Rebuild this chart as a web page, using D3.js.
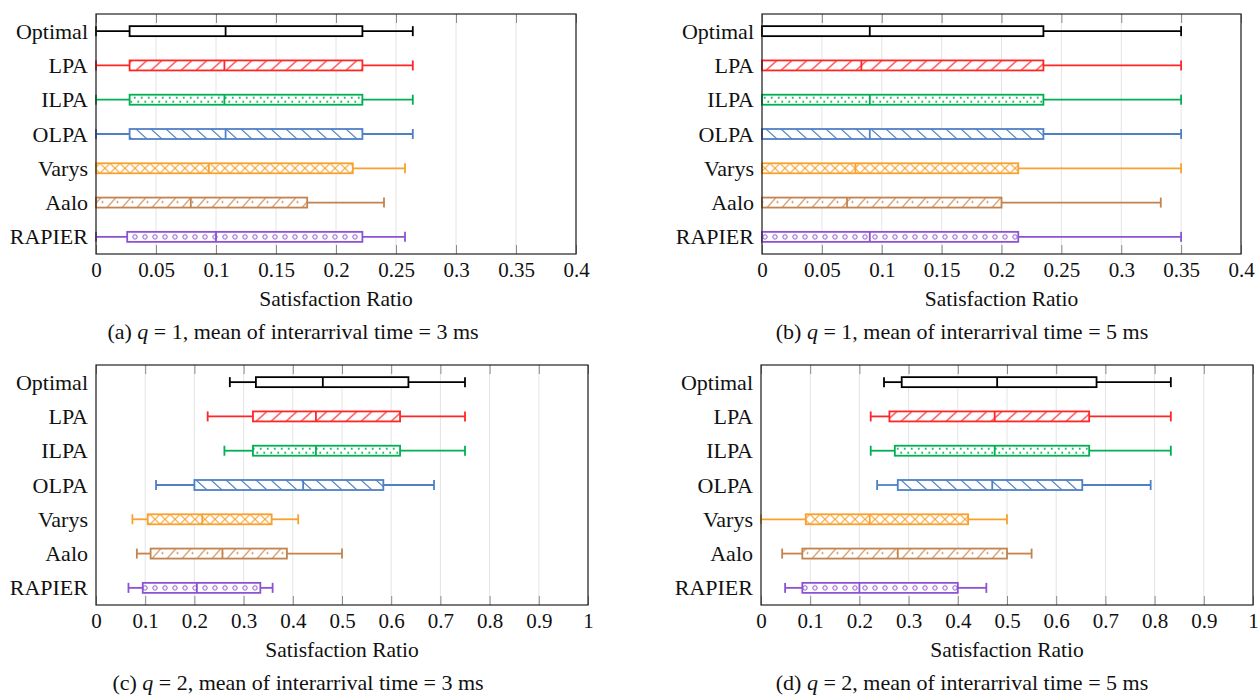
<!DOCTYPE html>
<html>
<head>
<meta charset="utf-8">
<script src="https://cdn.jsdelivr.net/npm/d3@7"></script>
<style>
body{margin:0;background:#fff;}
</style>
</head>
<body>
<div id="chart"></div>
<script>
var width = 1260;
var height = 696;

var methods = ['Optimal','LPA','ILPA','OLPA','Varys','Aalo','RAPIER'];
var colors = ['#000000','#ff2626','#00b050','#4f80c6','#f8a12e','#c4824c','#8b52d2'];
var fills = [null,'neLines','plusDots','nwLines','crossHatch','neDots','circles'];

// each row: [low whisker, q1, median, q3, high whisker]
var statsA = [
  [0, 0.028, 0.108, 0.222, 0.264],
  [0, 0.028, 0.107, 0.222, 0.264],
  [0, 0.028, 0.107, 0.222, 0.264],
  [0, 0.028, 0.108, 0.222, 0.264],
  [0, 0, 0.094, 0.214, 0.2575],
  [0, 0, 0.079, 0.176, 0.24],
  [0, 0.026, 0.1, 0.222, 0.2575]
];
var statsB = [
  [0, 0, 0.09, 0.235, 0.35],
  [0, 0, 0.083, 0.235, 0.35],
  [0, 0, 0.09, 0.235, 0.35],
  [0, 0, 0.09, 0.235, 0.35],
  [0, 0, 0.078, 0.214, 0.35],
  [0, 0, 0.071, 0.2, 0.333],
  [0, 0, 0.09, 0.214, 0.35]
];
var statsC = [
  [0.272, 0.325, 0.461, 0.635, 0.75],
  [0.227, 0.319, 0.447, 0.618, 0.75],
  [0.261, 0.319, 0.447, 0.618, 0.75],
  [0.122, 0.2, 0.421, 0.584, 0.687],
  [0.074, 0.105, 0.216, 0.357, 0.411],
  [0.083, 0.111, 0.257, 0.388, 0.5],
  [0.066, 0.095, 0.205, 0.334, 0.359]
];
var statsD = [
  [0.25, 0.286, 0.48, 0.682, 0.833],
  [0.223, 0.261, 0.475, 0.667, 0.833],
  [0.223, 0.272, 0.475, 0.667, 0.833],
  [0.236, 0.278, 0.47, 0.653, 0.792],
  [0, 0.091, 0.221, 0.421, 0.5],
  [0.043, 0.084, 0.278, 0.5, 0.55],
  [0.049, 0.084, 0.2, 0.4, 0.458]
];

var ticksSmall = [0, 0.05, 0.1, 0.15, 0.2, 0.25, 0.3, 0.35, 0.4];
var ticksLarge = [0, 0.1, 0.2, 0.3, 0.4, 0.5, 0.6, 0.7, 0.8, 0.9, 1];

var captions = [
  ['(a) ', 'q', ' = 1, mean of interarrival time = 3 ms'],
  ['(b) ', 'q', ' = 1, mean of interarrival time = 5 ms'],
  ['(c) ', 'q', ' = 2, mean of interarrival time = 3 ms'],
  ['(d) ', 'q', ' = 2, mean of interarrival time = 5 ms']
];

var panels = [
  {stats: statsA, ticks: ticksSmall, domain: [0, 0.4], x0: 96, x1: 576, y0: 14, y1: 254, cx: 293},
  {stats: statsB, ticks: ticksSmall, domain: [0, 0.4], x0: 762, x1: 1241, y0: 14, y1: 254, cx: 962},
  {stats: statsC, ticks: ticksLarge, domain: [0, 1], x0: 96, x1: 588, y0: 365, y1: 605, cx: 298},
  {stats: statsD, ticks: ticksLarge, domain: [0, 1], x0: 761, x1: 1253, y0: 365, y1: 605, cx: 962}
];

var font = "'Liberation Serif', 'Times New Roman', serif";

var svg = d3.select('#chart')
  .append('svg')
  .attr('width', width)
  .attr('height', height)
  .style('font-family', font);

// fill patterns, one per method (10px tall, centred on the box)
var defs = svg.append('defs');
methods.forEach(function(m, i){
  if(!fills[i]) return;
  var c = colors[i];
  var type = fills[i];
  var w = {neLines: 15, nwLines: 15, plusDots: 7, crossHatch: 10, neDots: 15, circles: 10}[type];
  var p = defs.append('pattern')
    .attr('id', 'pat' + i)
    .attr('patternUnits', 'userSpaceOnUse')
    .attr('x', 0).attr('y', -5)
    .attr('width', w).attr('height', 10);
  p.append('rect').attr('width', w).attr('height', 10).attr('fill', '#fff');
  var g = p.append('g').attr('stroke', c).attr('fill', 'none').attr('stroke-width', 1.1);
  if(type == 'neLines'){
    g.append('path').attr('d', 'M1,10L12,0');
  } else if(type == 'nwLines'){
    g.append('path').attr('d', 'M1,0L12,10');
  } else if(type == 'crossHatch'){
    g.append('path').attr('d', 'M0,0L10,10M0,10L10,0');
  } else if(type == 'neDots'){
    g.append('path').attr('d', 'M2,10L11,0');
    p.append('circle').attr('cx', 12.5).attr('cy', 4.5).attr('r', 1).attr('fill', c);
  } else if(type == 'circles'){
    g.append('circle').attr('cx', 5).attr('cy', 5).attr('r', 2.2).attr('stroke-width', 1);
  } else if(type == 'plusDots'){
    g.attr('stroke-width', 1);
    g.append('path').attr('d', 'M0.75,3h2M1.75,2v2M4.25,7h2M5.25,6v2');
  }
});

function fmt(d){
  return String(+d.toFixed(2));
}

panels.forEach(function(P, pi){
  var xScale = d3.scaleLinear().domain(P.domain).range([P.x0, P.x1]);
  var yScale = d3.scalePoint().domain(methods).range([P.y0, P.y1]).padding(0.5);
  var g = svg.append('g');

  // grid
  g.append('g').selectAll('line')
    .data(P.ticks)
    .enter()
    .append('line')
    .attr('x1', function(d){ return xScale(d); })
    .attr('x2', function(d){ return xScale(d); })
    .attr('y1', P.y0).attr('y2', P.y1)
    .attr('stroke', '#e4e4e4')
    .attr('stroke-width', 1);

  // bottom axis with inward ticks
  var xAxis = d3.axisBottom(xScale).tickValues(P.ticks).tickSize(-9).tickPadding(8).tickFormat(fmt);
  var ax = g.append('g')
    .attr('transform', 'translate(0,' + P.y1 + ')')
    .call(xAxis);
  ax.select('.domain').remove();
  ax.attr('font-family', null).attr('font-size', null);
  ax.selectAll('line').attr('stroke', '#8a8a8a');
  ax.selectAll('text')
    .style('font-family', font)
    .style('font-size', '21px')
    .attr('fill', '#111');

  var xTop = d3.axisTop(xScale).tickValues(P.ticks).tickSize(-9).tickFormat('');
  var at = g.append('g')
    .attr('transform', 'translate(0,' + P.y0 + ')')
    .call(xTop);
  at.select('.domain').remove();
  at.selectAll('line').attr('stroke', '#8a8a8a');

  // boxes
  var rows = g.append('g').selectAll('g')
    .data(P.stats)
    .enter()
    .append('g')
    .attr('transform', function(d, i){ return 'translate(0,' + yScale(methods[i]) + ')'; });

  rows.each(function(d, i){
    var r = d3.select(this);
    var c = colors[i];
    var sw = 1.8;
    r.append('line')
      .attr('x1', xScale(d[0])).attr('x2', xScale(d[1]))
      .attr('stroke', c).attr('stroke-width', sw);
    r.append('line')
      .attr('x1', xScale(d[3])).attr('x2', xScale(d[4]))
      .attr('stroke', c).attr('stroke-width', sw);
    [d[0], d[4]].forEach(function(v){
      r.append('line')
        .attr('x1', xScale(v)).attr('x2', xScale(v))
        .attr('y1', -5).attr('y2', 5)
        .attr('stroke', c).attr('stroke-width', sw);
    });
    r.append('rect')
      .attr('x', xScale(d[1]))
      .attr('y', -5)
      .attr('width', xScale(d[3]) - xScale(d[1]))
      .attr('height', 10)
      .attr('fill', fills[i] ? 'url(#pat' + i + ')' : '#fff')
      .attr('stroke', c).attr('stroke-width', sw);
    r.append('line')
      .attr('x1', xScale(d[2])).attr('x2', xScale(d[2]))
      .attr('y1', -5).attr('y2', 5)
      .attr('stroke', c).attr('stroke-width', sw);
  });

  // category labels
  g.append('g').selectAll('text')
    .data(methods)
    .enter()
    .append('text')
    .text(function(d){ return d; })
    .attr('x', P.x0 - 8)
    .attr('y', function(d){ return yScale(d) + 7.5; })
    .attr('text-anchor', 'end')
    .attr('font-size', 22)
    .attr('fill', '#111');

  // frame
  g.append('rect')
    .attr('x', P.x0).attr('y', P.y0)
    .attr('width', P.x1 - P.x0).attr('height', P.y1 - P.y0)
    .attr('fill', 'none')
    .attr('stroke', '#222')
    .attr('stroke-width', 1.2);

  g.append('text')
    .text('Satisfaction Ratio')
    .attr('x', (P.x0 + P.x1) / 2)
    .attr('y', P.y1 + 52)
    .attr('text-anchor', 'middle')
    .attr('font-size', 21.5)
    .attr('fill', '#111');

  var cap = g.append('text')
    .attr('x', P.cx)
    .attr('y', P.y1 + 85)
    .attr('text-anchor', 'middle')
    .attr('font-size', 22)
    .attr('fill', '#111');
  cap.append('tspan').text(captions[pi][0]);
  cap.append('tspan').text(captions[pi][1]).attr('font-style', 'italic');
  cap.append('tspan').text(captions[pi][2]);
});
</script>
</body>
</html>
